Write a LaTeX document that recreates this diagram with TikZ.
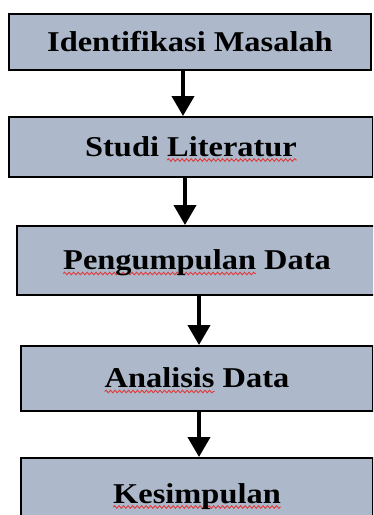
\documentclass[tikz,border=0pt]{standalone}
\usepackage{fontspec}
\setmainfont{Liberation Serif}[FakeStretch=1.13]
\usetikzlibrary{arrows.meta,decorations.pathmorphing}
\definecolor{boxfill}{HTML}{ADB9CA}
\definecolor{spellred}{HTML}{E03A3A}
\newsavebox{\spellbox}
\newcommand{\spellmark}[1]{\sbox{\spellbox}{#1}\rlap{\tikz[overlay,baseline=0pt,x=1pt,y=1pt]
    \draw[spellred,line width=0.9pt,decorate,decoration={snake,amplitude=1.3pt,segment length=4.5pt}]
      (0,-4) -- (\wd\spellbox,-4);}\usebox{\spellbox}}

\begin{document}
\begin{tikzpicture}[x=1pt,y=-1pt]
    \tikzstyle{stage}=[draw=black,line width=2pt,fill=boxfill,inner sep=0pt,
      text height=21pt,text depth=3pt,font=\bfseries\fontsize{28.7}{32}\selectfont]
    \tikzstyle{flow}=[line width=4pt,-{Triangle[width=22pt,length=20pt]}]
    \useasboundingbox (0,0) rectangle (373,515);
    \clip (0,0) rectangle (373,515);
    \node[stage,minimum width=362pt,minimum height=56pt] (s_1) at (190,42) {Identifikasi Masalah};
    \node[stage,minimum width=364pt,minimum height=60pt] (s_2) at (191,147) {Studi \spellmark{Literatur}};
    \node[stage,minimum width=360pt,minimum height=69pt] (s_3) at (197,260.5) {\spellmark{Pengumpulan} Data};
    \node[stage,minimum width=352pt,minimum height=65pt] (s_4) at (197,378.5) {\spellmark{Analisis} Data};
    \node[stage,minimum width=352pt,minimum height=72pt] (s_5) at (197,494) {\spellmark{Kesimpulan}};
    \draw[flow] ([xshift=-7pt]s_1.south) -- ([xshift=-8pt]s_2.north);
    \draw[flow] ([xshift=-6pt]s_2.south) -- ([xshift=-12pt]s_3.north);
    \draw[flow] ([xshift=2pt]s_3.south) -- ([xshift=2pt]s_4.north);
    \draw[flow] ([xshift=2pt]s_4.south) -- ([xshift=2pt]s_5.north);
\end{tikzpicture}
\end{document}
